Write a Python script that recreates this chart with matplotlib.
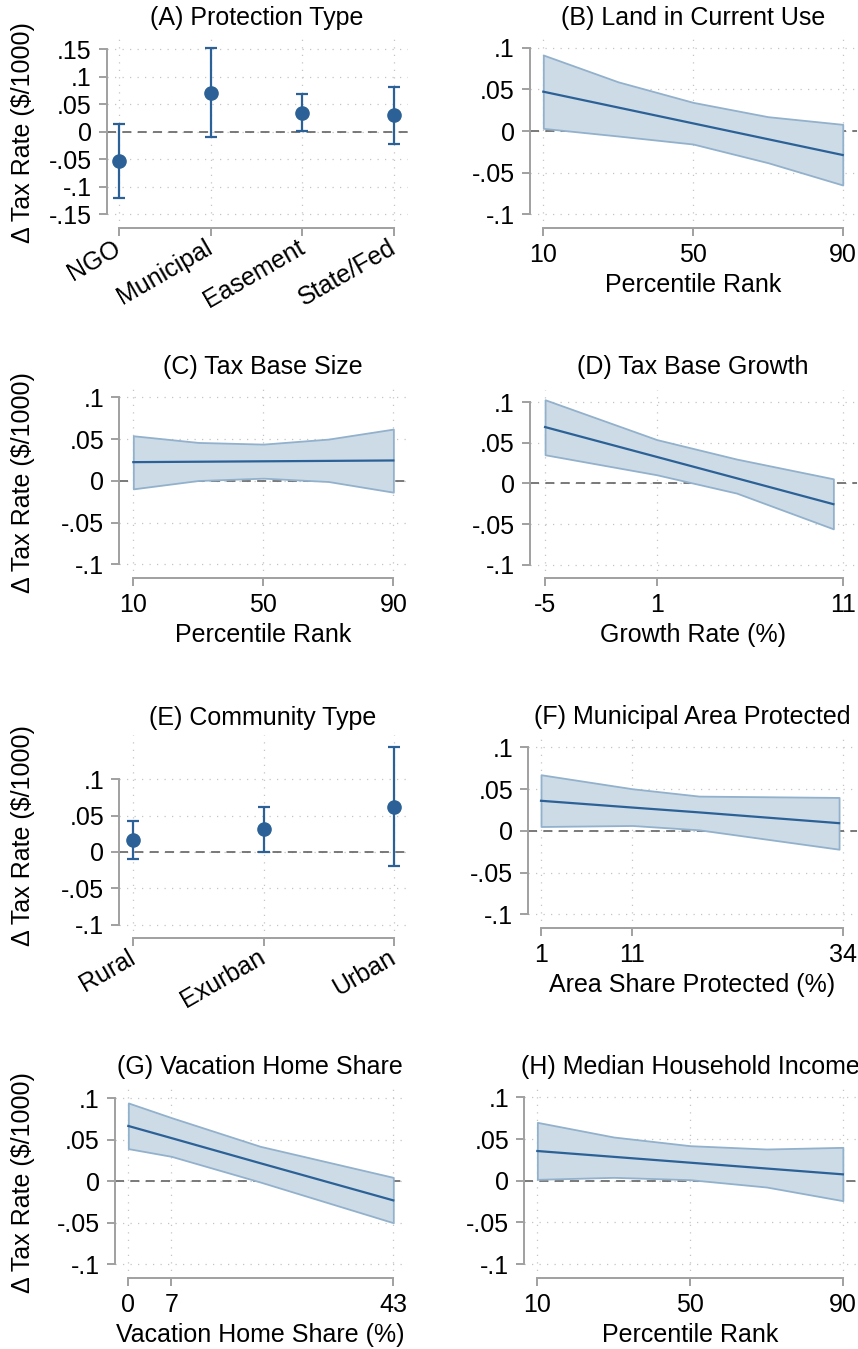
import numpy as np
import matplotlib.pyplot as plt

plt.rcParams['font.family'] = ['Liberation Sans', 'DejaVu Sans']

# (A) protection type: point estimates and 95% CI
protTypes = ["NGO", "Municipal", "Easement", "State/Fed"]
protEst = [-0.0526, 0.0714, 0.035, 0.0296]
protLo = [-0.120, -0.009, 0.002, -0.022]
protHi = [0.015, 0.153, 0.068, 0.082]

# (B) land in current use
lcuX = [10, 30, 50, 70, 90]
lcuEst = [0.0472, 0.0282, 0.0092, -0.0098, -0.0288]
lcuLo = [0.0032, -0.006, -0.0156, -0.038, -0.0648]
lcuHi = [0.0912, 0.059, 0.0344, 0.0172, 0.008]

# (C) tax base size
sizeX = [10, 30, 50, 70, 90]
sizeEst = [0.0224, 0.0229, 0.0234, 0.0239, 0.0244]
sizeLo = [-0.0096, 0.0004, 0.0032, -0.0008, -0.0136]
sizeHi = [0.054, 0.046, 0.044, 0.050, 0.062]

# (D) tax base growth
growX = [-5, 1, 5.3, 10.5]
growEst = [0.0694, 0.0327, 0.0064, -0.0255]
growLo = [0.0353, 0.0107, -0.0119, -0.0559]
growHi = [0.103, 0.054, 0.030, 0.0057]

# (E) community type
commTypes = ["Rural", "Exurban", "Urban"]
commEst = [0.0166, 0.0313, 0.0625]
commLo = [-0.0101, 0.0, -0.0189]
commHi = [0.0428, 0.062, 0.144]

# (F) municipal area protected
areaX = [1, 11, 18.3, 33.6]
areaEst = [0.036, 0.0279, 0.0221, 0.0092]
areaLo = [0.0052, 0.0064, 0.0012, -0.022]
areaHi = [0.0672, 0.0504, 0.0416, 0.040]

# (G) vacation home share
vacX = [0, 7, 21.4, 43]
vacEst = [0.0667, 0.0521, 0.0219, -0.0229]
vacLo = [0.0394, 0.0301, -0.0008, -0.0498]
vacHi = [0.0944, 0.0767, 0.0422, 0.0048]

# (H) median household income
incX = [10, 30, 50, 70, 90]
incEst = [0.0356, 0.0286, 0.0216, 0.0146, 0.0076]
incLo = [0.0016, 0.004, 0.0012, -0.0076, -0.024]
incHi = [0.070, 0.0524, 0.042, 0.038, 0.040]

W, H = 858, 1349
NAVY = '#2b6196'
FILL = '#cddbe6'
EDGE = '#92b1cc'
SPINE = '#a0a0a0'
FS = 18

fig = plt.figure(figsize=(W / 100, H / 100), dpi=100)


def makeAxes(left, top, right, bottom):
    return fig.add_axes([left / W, 1 - bottom / H, (right - left) / W, (bottom - top) / H])


def styleAxes(ax, xlim, ylim, xticks, xlabels, yticks, ylabels, rotate=False):
    ax.set_xlim(*xlim)
    ax.set_ylim(*ylim)
    ax.set_xticks(xticks)
    ax.set_yticks(yticks)
    ax.set_yticklabels(ylabels)
    if rotate:
        # category names slant up to the left of their tick
        ax.set_xticklabels(xlabels, rotation=30, ha='right', va='center', rotation_mode='anchor')
    else:
        ax.set_xticklabels(xlabels)
    for s in ['top', 'right']:
        ax.spines[s].set_visible(False)
    ax.spines['left'].set_bounds(yticks[0], yticks[-1])
    ax.spines['bottom'].set_bounds(xticks[0], xticks[-1])
    for s in ['left', 'bottom']:
        ax.spines[s].set_color(SPINE)
        ax.spines[s].set_linewidth(1.4)
    ax.tick_params(axis='both', colors=SPINE, width=1.4, length=6, labelsize=FS,
                   labelcolor='black')
    ax.tick_params(axis='y', pad=5)
    ax.tick_params(axis='x', pad=5 if not rotate else 7)
    ax.grid(True, color='#c4c4c4', linestyle=(0, (1, 5)), linewidth=0.9)
    ax.set_axisbelow(True)
    ax.axhline(0, color='#6e6e6e', linestyle=(0, (5, 3.5)), linewidth=1.3, zorder=1)


def drawBand(ax, x, est, lo, hi):
    ax.fill_between(x, lo, hi, facecolor=FILL, edgecolor=EDGE, linewidth=1.3, zorder=2)
    ax.plot(x, est, color=NAVY, linewidth=1.6, zorder=3)


def drawDots(ax, est, lo, hi):
    x = np.arange(1, len(est) + 1)
    est = np.array(est)
    err = [est - np.array(lo), np.array(hi) - est]
    ax.errorbar(x, est, yerr=err, fmt='o', color=NAVY, ms=9.5, elinewidth=1.6,
                capsize=4, capthick=1.6, zorder=3)


def panelTitle(text, cx, cy):
    fig.text(cx / W, 1 - cy / H, text, ha='center', va='center', fontsize=FS)


def xTitle(text, cx, cy):
    fig.text(cx / W, 1 - cy / H, text, ha='center', va='center', fontsize=FS)


def yTitle(cy):
    fig.text(23 / W, 1 - cy / H, "Δ Tax Rate ($/1000)", ha='center', va='center',
             rotation=90, fontsize=FS)


yt1 = [-0.1, -0.05, 0, 0.05, 0.1]
yl1 = ["-.1", "-.05", "0", ".05", ".1"]

# A
ax = makeAxes(107, 39, 408, 228)
drawDots(ax, protEst, protLo, protHi)
styleAxes(ax, (0.869, 4.153), (-0.175, 0.1687), [1, 2, 3, 4], protTypes,
          [-0.15, -0.1, -0.05, 0, 0.05, 0.1, 0.15],
          ["-.15", "-.1", "-.05", "0", ".05", ".1", ".15"], rotate=True)
panelTitle("(A) Protection Type", 257, 18)
yTitle(133)

# B
ax = makeAxes(530, 39, 857, 227.7)
drawBand(ax, lcuX, lcuEst, lcuLo, lcuHi)
styleAxes(ax, (6.45, 93.8), (-0.116, 0.1104), [10, 50, 90], ["10", "50", "90"], yt1, yl1)
panelTitle("(B) Land in Current Use", 693, 18)
xTitle("Percentile Rank", 693, 285)

# C
ax = makeAxes(119.3, 389, 406.7, 577.7)
drawBand(ax, sizeX, sizeEst, sizeLo, sizeHi)
styleAxes(ax, (5.69, 94.1), (-0.116, 0.110), [10, 50, 90], ["10", "50", "90"], yt1, yl1)
panelTitle("(C) Tax Base Size", 263, 367)
xTitle("Percentile Rank", 263, 635)
yTitle(483)

# D
ax = makeAxes(530, 390, 857, 577.7)
drawBand(ax, growX, growEst, growLo, growHi)
styleAxes(ax, (-5.81, 11.77), (-0.116, 0.115), [-5, 1, 11], ["-5", "1", "11"], yt1, yl1)
panelTitle("(D) Tax Base Growth", 693, 367)
xTitle("Growth Rate (%)", 693, 635)

# E
ax = makeAxes(119.3, 735, 406.7, 937.7)
drawDots(ax, commEst, commLo, commHi)
styleAxes(ax, (0.893, 3.097), (-0.118, 0.161), [1, 2, 3], commTypes, yt1, yl1, rotate=True)
panelTitle("(E) Community Type", 263, 718)
yTitle(836)

# F
ax = makeAxes(528.3, 739, 857, 927.7)
drawBand(ax, areaX, areaEst, areaLo, areaHi)
styleAxes(ax, (-0.39, 35.56), (-0.116, 0.110), [1, 11, 34], ["1", "11", "34"], yt1, yl1)
panelTitle("(F) Municipal Area Protected", 692, 717)
xTitle("Area Share Protected (%)", 692, 985)

# G
ax = makeAxes(115, 1088, 405, 1277.7)
drawBand(ax, vacX, vacEst, vacLo, vacHi)
styleAxes(ax, (-2.16, 44.9), (-0.116, 0.1124), [0, 7, 43], ["0", "7", "43"], yt1, yl1)
panelTitle("(G) Vacation Home Share", 260, 1067)
xTitle("Vacation Home Share (%)", 260, 1335)
yTitle(1183)

# H
ax = makeAxes(524.3, 1089, 857, 1277.7)
drawBand(ax, incX, incEst, incLo, incHi)
styleAxes(ax, (6.59, 93.7), (-0.1164, 0.110), [10, 50, 90], ["10", "50", "90"], yt1, yl1)
panelTitle("(H) Median Household Income", 690, 1067)
xTitle("Percentile Rank", 690, 1335)

fig.savefig("out.png", dpi=100)
